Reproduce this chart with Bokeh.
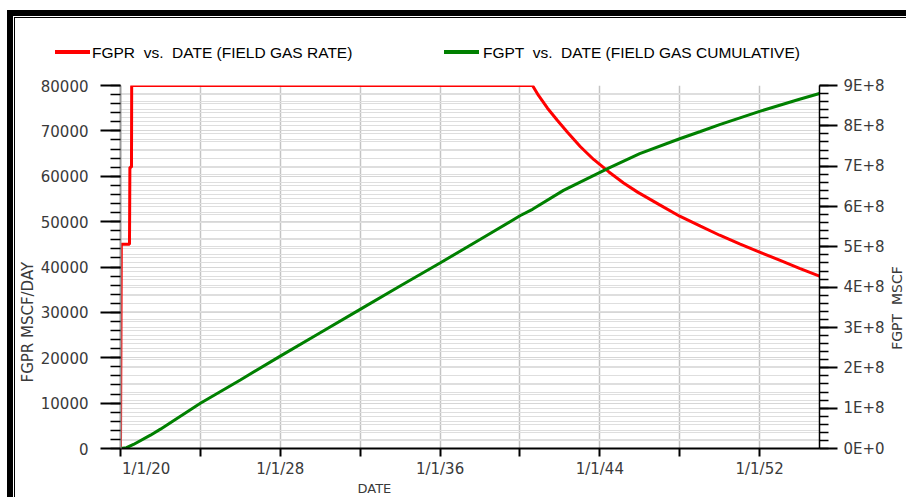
import math
from bokeh.plotting import figure
from bokeh.layouts import column
from bokeh.models import (Range1d, LinearAxis, FixedTicker, Grid, Title, Div,
                          NumeralTickFormatter, CustomJSTickFormatter)
from bokeh.embed import file_html
from bokeh.resources import INLINE

# ---------------- data ----------------
rate_years = [2020.0, 2020.04, 2020.45, 2020.47, 2020.55, 2020.56, 2040.63, 2040.93, 2041.38,
              2041.88, 2042.38, 2043.03, 2043.69, 2044.44, 2045.19, 2045.89, 2047.0, 2048.0,
              2049.04, 2050.0, 2051.0, 2052.0, 2053.0, 2054.0, 2055.0]
rate_values = [0, 45000, 45000, 62000, 62000, 80000, 80000, 77800, 75000,
               72300, 69700, 66500, 63700, 61000, 58500, 56500, 53700, 51200,
               49000, 47000, 45100, 43300, 41500, 39700, 38000]

cum_years = [2020.0, 2020.3, 2020.65, 2021.5, 2022.0, 2024.0, 2026.0, 2028.0, 2030.0, 2032.0,
             2034.0, 2036.0, 2038.0, 2040.0, 2040.63, 2042.18, 2044.44, 2046.0, 2048.0,
             2049.04, 2050.0, 2052.0, 2054.0, 2055.0]
cum_values = [0.0, 0.02e8, 0.10e8, 0.33e8, 0.48e8, 1.12e8, 1.70e8, 2.29e8, 2.87e8, 3.45e8,
              4.03e8, 4.60e8, 5.18e8, 5.77e8, 5.93e8, 6.40e8, 6.95e8, 7.31e8, 7.68e8,
              7.86e8, 8.03e8, 8.36e8, 8.66e8, 8.80e8]

x_ticks = [2020, 2024, 2028, 2032, 2036, 2040, 2044, 2048, 2052]
first_date_label = "1/1/20"
left_ticks = [0, 10000, 20000, 30000, 40000, 50000, 60000, 70000, 80000]
left_minor = list(range(0, 80001, 2000))
right_ticks = [i * 100000000 for i in range(10)]
right_minor = [i * 20000000 for i in range(46)]

rate_label = "FGPR  vs.  DATE (FIELD GAS RATE)"
cum_label = "FGPT  vs.  DATE (FIELD GAS CUMULATIVE)"
x_title = "DATE"
left_title = "FGPR  MSCF/DAY"
right_title = "FGPT  MSCF"

RATE_COLOR = "#ff0000"
CUM_COLOR = "#008000"
TICK_FONT = "DejaVu Sans"
TICK_COLOR = "#3a3a3a"
W = 906
LEG_H = 70
MAIN_H = 497 - LEG_H

# ---------------- legend strip (top) + a few texts laid over the chart margins ----------------
def legend_entry(x_line, x_text, color, label):
    return (f'<div style="position:absolute;left:{x_line}px;top:50px;width:35px;height:4px;'
            f'background:{color};"></div>'
            f'<div style="position:absolute;left:{x_text}px;top:43px;line-height:20px;'
            f'white-space:pre;">{label}</div>')

overlay_font = f"font-family:'{TICK_FONT}';color:{TICK_COLOR};white-space:pre;"
legend_html = ('<div style="position:relative;width:906px;height:70px;overflow:visible;'
               'font-family:\'Liberation Sans\',Arial,sans-serif;font-size:15.5px;color:#000;">'
               + legend_entry(55, 92, RATE_COLOR, rate_label)
               + legend_entry(444, 483, CUM_COLOR, cum_label)
               + f'<div style="position:absolute;left:897px;top:308px;font-size:14px;line-height:14px;'
                 f'transform:translate(-50%,-50%) rotate(-90deg);{overlay_font}">{right_title}</div>'
               + f'<div style="position:absolute;left:122px;top:460px;font-size:15px;line-height:18px;'
                 f'{overlay_font}">{first_date_label}</div>'
               + '</div>')
legend_div = Div(text=legend_html, width=W, height=LEG_H, margin=0,
                 styles={"overflow": "visible"})

# ---------------- main chart ----------------
p = figure(width=W, height=MAIN_H, output_backend="svg", toolbar_location=None,
           x_range=Range1d(2020, 2055), y_range=Range1d(0, 80000),
           min_border_left=120, min_border_right=87, min_border_top=15, min_border_bottom=46,
           background_fill_color="white", border_fill_color=None, margin=0)
p.outline_line_color = None
p.extra_y_ranges = {"right": Range1d(0, 900000000)}

# x axis
xt = FixedTicker(ticks=x_ticks, minor_ticks=[])
xa = p.xaxis[0]
xa.ticker = xt
xa.formatter = CustomJSTickFormatter(code="""
const y = Math.round(tick);
if (y % 8 != 4 || y == 2020) return "";
return "1/1/" + (y % 100);
""")
xa.axis_line_color = "black"
xa.axis_line_width = 2
xa.major_tick_out = 8
xa.major_tick_in = 0
xa.major_tick_line_width = 2
xa.major_tick_line_color = "black"
xa.minor_tick_line_color = None
xa.major_label_standoff = 3
xa.major_label_text_font = TICK_FONT
xa.major_label_text_font_size = "15px"
xa.major_label_text_color = TICK_COLOR

# left axis
lt = FixedTicker(ticks=left_ticks, minor_ticks=left_minor)
ya = p.yaxis[0]
ya.ticker = lt
ya.formatter = NumeralTickFormatter(format="0")
ya.axis_line_color = "#9a9a9a"
ya.axis_line_width = 2
ya.major_tick_out = 20
ya.major_tick_in = 0
ya.major_tick_line_width = 2
ya.major_tick_line_color = "black"
ya.minor_tick_out = 10
ya.minor_tick_in = 0
ya.minor_tick_line_width = 1.5
ya.minor_tick_line_color = "black"
ya.major_label_standoff = 12
ya.major_label_text_font = TICK_FONT
ya.major_label_text_font_size = "15px"
ya.major_label_text_color = TICK_COLOR

# right axis
rt = FixedTicker(ticks=right_ticks, minor_ticks=right_minor)
ra = LinearAxis(y_range_name="right", ticker=rt)
ra.formatter = CustomJSTickFormatter(code="""
const v = Math.round(tick / 1e8);
return v == 0 ? "0E+0" : v + "E+8";
""")
ra.axis_line_color = "black"
ra.axis_line_width = 1.5
ra.major_tick_out = 18
ra.major_tick_in = 0
ra.major_tick_line_width = 2
ra.major_tick_line_color = "black"
ra.minor_tick_out = 9
ra.minor_tick_in = 0
ra.minor_tick_line_width = 1.5
ra.minor_tick_line_color = "black"
ra.major_label_standoff = 6
ra.major_label_text_font = TICK_FONT
ra.major_label_text_font_size = "15px"
ra.major_label_text_color = TICK_COLOR
p.add_layout(ra, "right")

# grids
p.xgrid.ticker = xt
p.xgrid.grid_line_color = "#c4c4c4"
p.xgrid.grid_line_width = 1.5
p.ygrid.ticker = lt
p.ygrid.grid_line_color = "#d6d6d6"
p.ygrid.minor_grid_line_color = "#dedede"
rg = Grid(dimension=1, ticker=rt, y_range_name="right",
          grid_line_color="#dedede", minor_grid_line_color="#dedede")
p.add_layout(rg)

# series
r_rate = p.line(rate_years, rate_values, line_color=RATE_COLOR, line_width=3)
r_cum = p.line(cum_years, cum_values, line_color=CUM_COLOR, line_width=3, y_range_name="right")

# axis titles
p.add_layout(Title(text=x_title, align="left", offset=237, vertical_align="top", standoff=0,
                   text_font=TICK_FONT, text_font_size="13px", text_font_style="normal",
                   text_color=TICK_COLOR), "below")
p.add_layout(Title(text=left_title, align="left", offset=66, vertical_align="middle", standoff=0,
                   text_font=TICK_FONT, text_font_size="15px", text_font_style="normal",
                   text_color=TICK_COLOR), "left")

# outer frame: thick + thin black lines along the top and left edge
frame_styles = {
    "background-color": "white",
    "background-image": "linear-gradient(#000,#000), linear-gradient(#000,#000), "
                        "linear-gradient(#000,#000), linear-gradient(#000,#000)",
    "background-size": "100% 6px, 6px 100%, 100% 1px, 1px 100%",
    "background-position": "7px 10px, 7px 10px, 14px 17px, 14px 17px",
    "background-repeat": "no-repeat",
}
layout = column(legend_div, p, spacing=0, styles=frame_styles)

open("out.html", "w").write(file_html(layout, INLINE))
